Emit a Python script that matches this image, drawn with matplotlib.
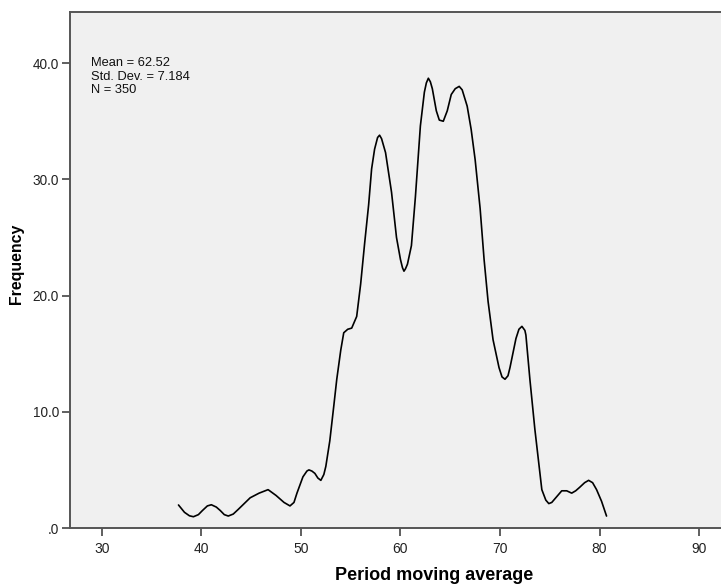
import matplotlib
matplotlib.use("Agg")
import matplotlib.pyplot as plt

# values
x_vals = [37.7, 38.3, 38.8, 39.2, 39.7, 40.1, 40.6, 41.0, 41.5, 41.9, 42.3, 42.7, 43.2, 43.7,
          44.3, 44.9, 45.8, 46.7, 47.5, 48.3, 48.9, 49.3, 49.6, 50.2, 50.6, 50.8, 51.1, 51.4,
          51.7, 52.0, 52.3, 52.5, 52.9, 53.3, 53.6, 54.0, 54.3, 54.7, 55.1, 55.6, 56.0, 56.4,
          56.8, 57.1, 57.4, 57.7, 57.9, 58.1, 58.5, 59.1, 59.6, 60.0, 60.2, 60.35, 60.5, 60.7,
          61.1, 61.5, 62.0, 62.4, 62.6, 62.8, 63.0, 63.2, 63.6, 63.9, 64.3, 64.7, 65.1, 65.5,
          65.9, 66.2, 66.7, 67.1, 67.5, 68.0, 68.4, 68.8, 69.3, 69.9, 70.2, 70.5, 70.8, 71.0,
          71.6, 71.9, 72.2, 72.5, 72.6, 73.0, 73.5, 74.2, 74.6, 74.9, 75.2, 75.5, 76.2, 76.7,
          77.2, 77.6, 78.0, 78.5, 78.9, 79.3, 79.7, 80.2, 80.7]
freq_vals = [1.98, 1.35, 1.05, 0.97, 1.15, 1.5, 1.9, 2.0, 1.8, 1.5, 1.15, 1.03, 1.2, 1.6,
             2.1, 2.6, 3.0, 3.3, 2.8, 2.2, 1.9, 2.2, 3.0, 4.4, 4.9, 5.0, 4.9, 4.7,
             4.3, 4.1, 4.6, 5.3, 7.5, 10.5, 12.8, 15.3, 16.8, 17.1, 17.2, 18.2, 21.0, 24.5,
             27.8, 30.9, 32.6, 33.6, 33.8, 33.5, 32.3, 28.9, 25.0, 23.1, 22.4, 22.1, 22.3, 22.7,
             24.3, 28.5, 34.6, 37.5, 38.3, 38.7, 38.4, 37.8, 35.9, 35.1, 35.0, 35.9, 37.3, 37.8,
             38.0, 37.7, 36.3, 34.3, 31.7, 27.5, 23.1, 19.5, 16.2, 13.8, 13.0, 12.8, 13.1, 13.8,
             16.3, 17.1, 17.35, 17.0, 16.6, 12.8, 8.5, 3.3, 2.4, 2.1, 2.2, 2.5, 3.2, 3.2,
             3.0, 3.2, 3.5, 3.9, 4.1, 3.9, 3.3, 2.3, 1.03]
x_ticks = [30, 40, 50, 60, 70, 80, 90]
y_ticks = [0, 10, 20, 30, 40]
y_tick_labels = [".0", "10.0", "20.0", "30.0", "40.0"]
stats_text = "Mean = 62.52\nStd. Dev. = 7.184\nN = 350"

plt.rcParams['font.family'] = ['Liberation Sans', 'DejaVu Sans']

fig = plt.figure(figsize=(7.21, 5.87), dpi=100, facecolor="white")
ax = fig.add_axes([70/721, 59/587, 651/721, 516/587])
ax.set_facecolor("#f0f0f0")
ax.plot(x_vals, freq_vals, color="black", lw=1.2, solid_capstyle="round", solid_joinstyle="round")

ax.set_xlim(26.8, 92.2)
ax.set_ylim(0, 44.4)
ax.set_xticks(x_ticks)
ax.set_xticklabels([str(t) for t in x_ticks], fontsize=10, color="#222222")
ax.set_yticks(y_ticks)
ax.set_yticklabels(y_tick_labels, fontsize=9.8, color="#222222")
ax.tick_params(axis="both", direction="out", length=6, width=1.2, color="#444444", pad=2)
ax.tick_params(axis="x", pad=4)

for s in ["left", "bottom", "top"]:
    ax.spines[s].set_color("#555555")
    ax.spines[s].set_linewidth(1.4)
ax.spines["right"].set_visible(False)

fig.text(434/721, 1 - 575/587, "Period moving average", fontsize=13, fontweight="bold",
         ha="center", va="center")
fig.text(17/721, 1 - 264/587, "Frequency", fontsize=11.4, fontweight="bold",
         ha="center", va="center", rotation=90)

fig.text(91/721, 1 - 57.5/587, stats_text, fontsize=9.3, va="top", ha="left",
         linespacing=1.15, color="#111111")

fig.savefig("out.png", dpi=100, facecolor="white")
